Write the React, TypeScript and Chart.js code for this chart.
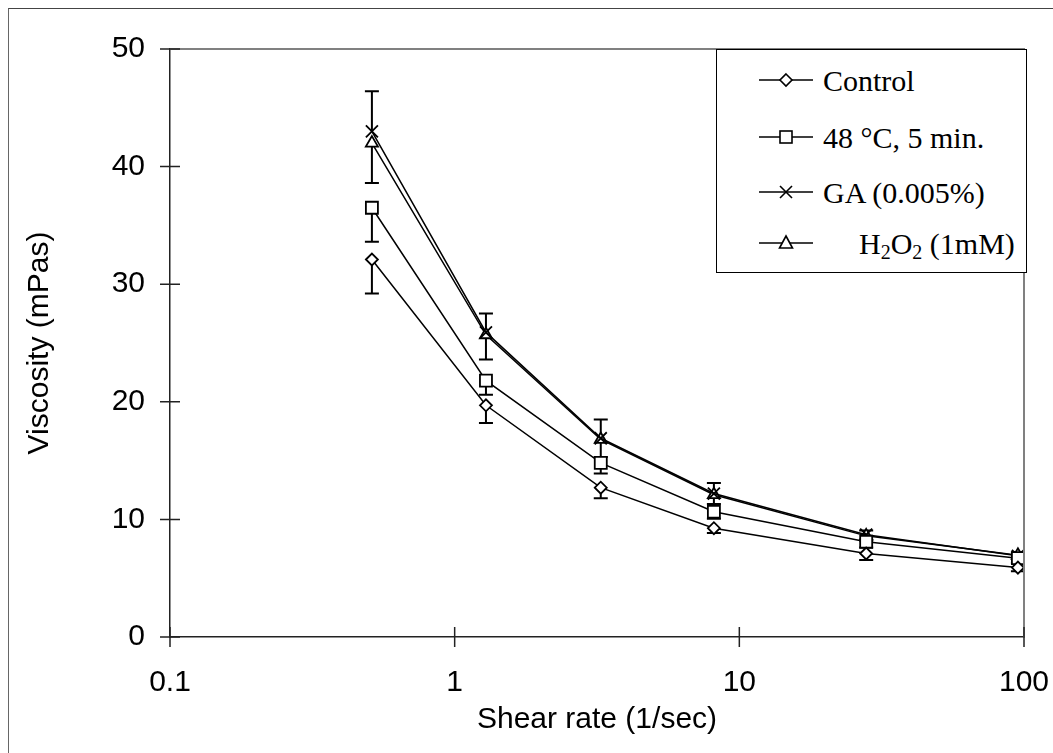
import React, { useEffect, useRef } from "react";
import { Chart, registerables } from "chart.js";

Chart.register(...registerables);

// ---- data ----
const shearRate = [0.512, 1.288, 3.26, 8.14, 27.9, 95.2];

const controlVisc = [32.1, 19.7, 12.7, 9.25, 7.1, 5.9];
const heatedVisc = [36.5, 21.8, 14.8, 10.65, 8.1, 6.7];
const gaVisc = [43.0, 25.9, 16.9, 12.2, 8.7, 6.9];
const h2o2Visc = [42.0, 25.7, 16.8, 12.1, 8.6, 6.95];

// one-sided error bars as drawn in the reference
const controlErrMinus = [2.9, 1.5, 0.9, 0.4, 0.55, 0.3];
const heatedErrMinus = [2.9, 1.2, 0.9, 0.6, 0.5, 0.4];
const gaErrPlus = [3.4, 1.6, 1.6, 0.9, 0.35, 0.3];
const h2o2ErrMinus = [3.4, 2.1, 1.5, 0.8, 0.4, 0.3];

const seriesLabels = ["Control", "48 °C, 5 min.", "GA (0.005%)", "H2O2 (1mM)"];
const xTickValues = [0.1, 1, 10, 100];
const xTickLabels = ["0.1", "1", "10", "100"];
const yTickValues = [0, 10, 20, 30, 40, 50];

const xTitle = "Shear rate (1/sec)";
const yTitle = "Viscosity (mPas)";

// ---- layout ----
const CANVAS_W = 1044;
const CANVAS_H = 744;
const PLOT_LEFT = 161;
const PLOT_RIGHT = 1015;
const PLOT_TOP = 40;
const PLOT_BOTTOM = 628;

const SANS = '"Liberation Sans", Arial, sans-serif';
const SERIF = '"Liberation Serif", "Times New Roman", serif';

const toPoints = (vals: number[]) => vals.map((v, i) => ({ x: shearRate[i], y: v }));

const errorBarPlugin = {
  id: "errorBars",
  beforeDatasetsDraw(chart: any) {
    const ctx = chart.ctx;
    const yScale = chart.scales.y;
    ctx.save();
    ctx.strokeStyle = "#000";
    ctx.lineWidth = 2;
    chart.data.datasets.forEach((ds: any, di: number) => {
      const meta = chart.getDatasetMeta(di);
      const plus: number[] = ds.errPlus || [];
      const minus: number[] = ds.errMinus || [];
      meta.data.forEach((pt: any, i: number) => {
        const v = ds.data[i].y;
        const x = pt.x;
        const yc = yScale.getPixelForValue(v);
        ctx.beginPath();
        if (plus[i]) {
          const yTop = yScale.getPixelForValue(v + plus[i]);
          ctx.moveTo(x, yc);
          ctx.lineTo(x, yTop);
          ctx.moveTo(x - 7, yTop);
          ctx.lineTo(x + 7, yTop);
        }
        if (minus[i]) {
          const yBot = yScale.getPixelForValue(v - minus[i]);
          ctx.moveTo(x, yc);
          ctx.lineTo(x, yBot);
          ctx.moveTo(x - 7, yBot);
          ctx.lineTo(x + 7, yBot);
        }
        ctx.stroke();
      });
    });
    ctx.restore();
  },
};

const framePlugin = {
  id: "frameTicks",
  afterDraw(chart: any) {
    const ctx = chart.ctx;
    const { left, right, top, bottom } = chart.chartArea;
    ctx.save();
    ctx.strokeStyle = "#808080";
    ctx.lineWidth = 2;
    ctx.beginPath();
    ctx.moveTo(left, top);
    ctx.lineTo(right, top);
    ctx.lineTo(right, bottom);
    ctx.stroke();
    ctx.strokeStyle = "#222";
    ctx.lineWidth = 1.5;
    ctx.beginPath();
    yTickValues.forEach((v) => {
      const py = chart.scales.y.getPixelForValue(v);
      ctx.moveTo(left - 10, py);
      ctx.lineTo(left + 10, py);
    });
    xTickValues.forEach((v) => {
      const px = chart.scales.x.getPixelForValue(v);
      ctx.moveTo(px, bottom - 10);
      ctx.lineTo(px, bottom + 10);
    });
    ctx.stroke();
    ctx.restore();
  },
};

function ChartCanvas() {
  const ref = useRef<HTMLCanvasElement | null>(null);
  useEffect(() => {
    if (!ref.current) return;
    const common = {
      borderColor: "#000",
      borderWidth: 1.5,
      pointBorderColor: "#000",
      pointBackgroundColor: "#fff",
      pointBorderWidth: 1.8,
      tension: 0,
      fill: false,
    };
    const chart = new Chart(ref.current, {
      type: "line",
      data: {
        datasets: [
          { ...common, label: seriesLabels[0], data: toPoints(controlVisc), errMinus: controlErrMinus, pointStyle: "rectRot", pointRadius: 6 },
          { ...common, label: seriesLabels[1], data: toPoints(heatedVisc), errMinus: heatedErrMinus, pointStyle: "rect", pointRadius: 8.5 },
          { ...common, label: seriesLabels[2], data: toPoints(gaVisc), errPlus: gaErrPlus, pointStyle: "crossRot", pointRadius: 8.5 },
          { ...common, label: seriesLabels[3], data: toPoints(h2o2Visc), errMinus: h2o2ErrMinus, pointStyle: "triangle", pointRadius: 7 },
        ] as any,
      },
      options: {
        animation: false,
        responsive: false,
        devicePixelRatio: 1,
        layout: { padding: { top: PLOT_TOP, right: CANVAS_W - PLOT_RIGHT, bottom: 0, left: 0 } },
        plugins: { legend: { display: false }, tooltip: { enabled: false } },
        scales: {
          x: {
            type: "logarithmic",
            min: 0.1,
            max: 100,
            grid: { display: false, drawTicks: false },
            border: { display: true, color: "#222", width: 1.5 },
            afterBuildTicks: (scale: any) => {
              scale.ticks = xTickValues.map((v) => ({ value: v }));
            },
            ticks: {
              autoSkip: false,
              maxRotation: 0,
              padding: 28,
              color: "#000",
              font: { family: SANS, size: 30 },
              callback: (v: any) => {
                const idx = xTickValues.findIndex((t) => Math.abs(t - Number(v)) < 1e-9);
                return idx >= 0 ? xTickLabels[idx] : "";
              },
            },
            title: {
              display: true,
              text: xTitle,
              color: "#000",
              font: { family: SANS, size: 30 },
              padding: { top: 0, bottom: 15 },
            },
            afterFit: (scale: any) => {
              scale.height = CANVAS_H - PLOT_BOTTOM;
              scale.paddingLeft = 0;
              scale.paddingRight = 0;
            },
          },
          y: {
            type: "linear",
            min: 0,
            max: 50,
            grid: { display: false, drawTicks: false },
            border: { display: true, color: "#222", width: 1.5 },
            afterBuildTicks: (scale: any) => {
              scale.ticks = yTickValues.map((v) => ({ value: v }));
            },
            ticks: {
              padding: 25,
              color: "#000",
              font: { family: SANS, size: 30 },
            },
            title: {
              display: true,
              text: yTitle,
              color: "#000",
              font: { family: SANS, size: 30 },
              padding: { top: 13, bottom: 0 },
            },
            afterFit: (scale: any) => {
              scale.width = PLOT_LEFT;
              scale.paddingTop = 0;
              scale.paddingBottom = 0;
            },
          },
        },
      } as any,
      plugins: [errorBarPlugin, framePlugin],
    });
    return () => chart.destroy();
  }, []);
  return <canvas ref={ref} width={CANVAS_W} height={CANVAS_H} style={{ display: "block", width: CANVAS_W, height: CANVAS_H }} />;
}

function LegendIcon({ kind }: { kind: number }) {
  const stroke = { stroke: "#000", strokeWidth: 1.6, fill: "#fff" };
  let marker: React.ReactNode = null;
  if (kind === 0) marker = <polygon points="27,6 33,12 27,18 21,12" {...stroke} />;
  if (kind === 1) marker = <rect x={21} y={6} width={12} height={12} {...stroke} />;
  if (kind === 2)
    marker = (
      <g stroke="#000" strokeWidth={1.6}>
        <line x1={21} y1={6} x2={33} y2={18} />
        <line x1={33} y1={6} x2={21} y2={18} />
      </g>
    );
  if (kind === 3) marker = <polygon points="27,5 33.5,17 20.5,17" {...stroke} />;
  return (
    <svg width={56} height={24} style={{ display: "block" }}>
      <line x1={0} y1={12} x2={54} y2={12} stroke="#000" strokeWidth={1.6} />
      {marker}
    </svg>
  );
}

const legendRowCenters = [31, 88, 143, 194];

function Legend() {
  return (
    <div
      style={{
        position: "fixed",
        left: 716,
        top: 49,
        width: 311,
        height: 224,
        boxSizing: "border-box",
        border: "1.5px solid #000",
        background: "#fff",
        fontFamily: SERIF,
        fontSize: 30,
        color: "#000",
      }}
    >
      {seriesLabels.map((lab, i) => (
        <div key={i}>
          <div style={{ position: "absolute", left: 42, top: legendRowCenters[i] - 13 }}>
            <LegendIcon kind={i} />
          </div>
          <div
            style={{
              position: "absolute",
              left: i === 3 ? 142 : 106,
              top: legendRowCenters[i] - 20,
              height: 40,
              lineHeight: "40px",
              whiteSpace: "nowrap",
            }}
          >
            {i === 3 ? (
              <span>
                H<span style={{ fontSize: 20, position: "relative", top: 5 }}>2</span>O
                <span style={{ fontSize: 20, position: "relative", top: 5 }}>2</span> (1mM)
              </span>
            ) : (
              lab
            )}
          </div>
        </div>
      ))}
    </div>
  );
}

export default function App() {
  return (
    <div>
      <div
        style={{
          position: "fixed",
          left: 8,
          top: 8,
          width: 1045,
          height: 745,
          boxSizing: "border-box",
          borderLeft: "1px solid #666",
          borderTop: "1px solid #444",
          background: "#fff",
        }}
      >
        <ChartCanvas />
      </div>
      <Legend />
    </div>
  );
}
